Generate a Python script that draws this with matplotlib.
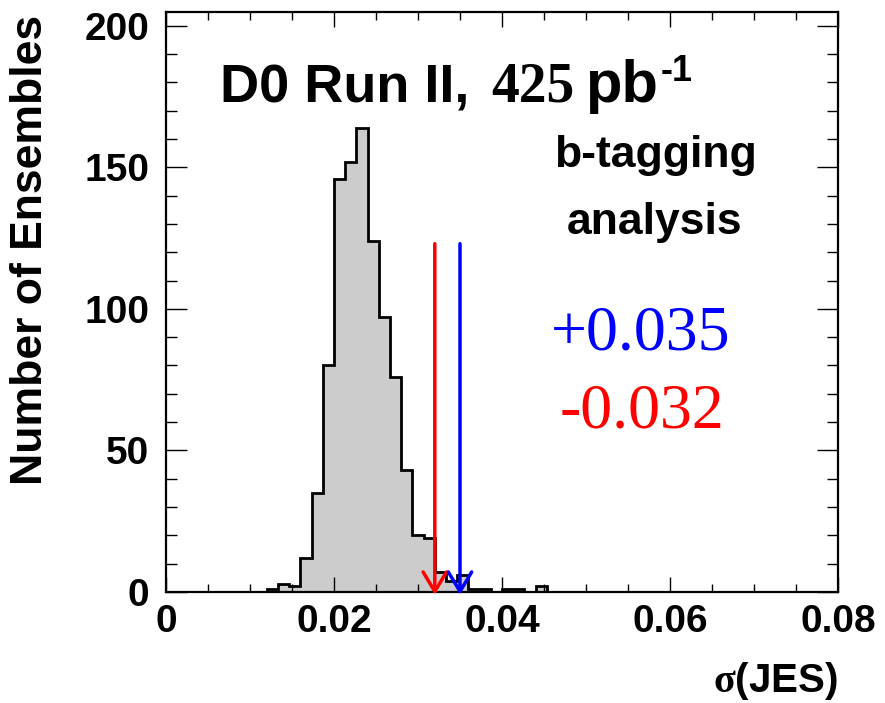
import numpy as np
import matplotlib
matplotlib.use('Agg')
import matplotlib.pyplot as plt
from matplotlib.ticker import MultipleLocator

# --- data ---
x_min, x_max, n_bins = 0.0, 0.08, 60
counts = [0, 0, 0, 0, 0, 0, 0, 0, 0, 1,
          3, 2, 12, 35, 80, 146, 152, 164, 124, 97,
          76, 43, 20, 19, 7, 4, 6, 1, 1, 0,
          1, 1, 0, 2, 0, 0, 0, 0, 0, 0,
          0, 0, 0, 0, 0, 0, 0, 0, 0, 0,
          0, 0, 0, 0, 0, 0, 0, 0, 0, 0]
err_plus = 0.035
err_minus = 0.032
arrow_top = 123
x_ticks = [0, 0.02, 0.04, 0.06, 0.08]
x_tick_labels = ['0', '0.02', '0.04', '0.06', '0.08']
y_ticks = [0, 50, 100, 150, 200]

edges = np.linspace(x_min, x_max, n_bins + 1)
centers = 0.5 * (edges[:-1] + edges[1:])

plt.rcParams['font.family'] = ['Liberation Sans', 'DejaVu Sans']
plt.rcParams['font.weight'] = 'bold'
plt.rcParams['mathtext.fontset'] = 'custom'
plt.rcParams['mathtext.rm'] = 'Liberation Serif'
plt.rcParams['mathtext.it'] = 'Liberation Serif'

W, H = 885, 703
fig = plt.figure(figsize=(W / 100, H / 100), dpi=100)
ax = fig.add_axes([166 / W, 111 / H, 672 / W, 580.5 / H])


def fx(px):
    return px / W


def fy(py):
    return 1 - py / H


ax.hist(centers, bins=edges, weights=counts, histtype='stepfilled',
        facecolor='#cccccc', edgecolor='none')
ax.hist(centers, bins=edges, weights=counts, histtype='step',
        color='black', linewidth=2.0)

# arrows marking the measured uncertainties
for val, col in [(err_minus, '#ff0000'), (err_plus, '#0000ff')]:
    ax.annotate('', xy=(val, -1), xytext=(val, arrow_top),
                arrowprops=dict(arrowstyle='->, head_length=0.7, head_width=0.42',
                                color=col, lw=2.5, shrinkA=0, shrinkB=0,
                                mutation_scale=20),
                annotation_clip=False)

ax.set_xlim(x_min, x_max)
ax.set_ylim(0, 205)
ax.set_xticks(x_ticks)
ax.set_xticklabels(x_tick_labels)
ax.set_yticks(y_ticks)
ax.xaxis.set_minor_locator(MultipleLocator(0.005))
ax.yaxis.set_minor_locator(MultipleLocator(10))

ax.tick_params(which='both', direction='in', top=True, right=True,
               labelsize=28, width=1.0)
ax.tick_params(axis='x', which='major', length=11, pad=9)
ax.tick_params(axis='x', which='minor', length=5.5)
ax.tick_params(axis='y', which='major', length=15, pad=12)
ax.tick_params(axis='y', which='minor', length=8)
for lab in ax.get_xticklabels() + ax.get_yticklabels():
    lab.set_fontweight('bold')
for sp in ax.spines.values():
    sp.set_linewidth(1.6)

ax.set_ylabel('Number of Ensembles', fontsize=32, fontweight='bold', va='center')
ax.yaxis.set_label_coords(-0.201, 0.589)
ax.set_xlabel(r'$\mathrm{\sigma}$(JES)', fontsize=29, fontweight='bold',
              loc='right', labelpad=14)

# header text, built from pieces like the original
fig.text(fx(220), fy(102.5), 'D0 Run II,', fontsize=39, fontweight='bold',
         va='baseline', ha='left')
fig.text(fx(491), fy(101.5), '425', fontsize=40, fontweight='bold',
         family='Liberation Serif', va='baseline', ha='left')
fig.text(fx(585), fy(101.5), 'pb', fontsize=43, fontweight='bold',
         va='baseline', ha='left')
fig.text(fx(661), fy(81), '-1', fontsize=26, fontweight='bold',
         va='baseline', ha='left')

fig.text(fx(655), fy(167), 'b-tagging', fontsize=32, fontweight='bold',
         va='baseline', ha='center')
fig.text(fx(655), fy(234), 'analysis', fontsize=32, fontweight='bold',
         va='baseline', ha='center')

fig.text(fx(641), fy(350), '+%.3f' % err_plus, fontsize=46, color='#0000ff',
         family='Liberation Serif', fontweight='normal', va='baseline', ha='center')
fig.text(fx(642), fy(427), '-%.3f' % err_minus, fontsize=46, color='#ff0000',
         family='Liberation Serif', fontweight='normal', va='baseline', ha='center')

fig.savefig('out.png', dpi=100)
